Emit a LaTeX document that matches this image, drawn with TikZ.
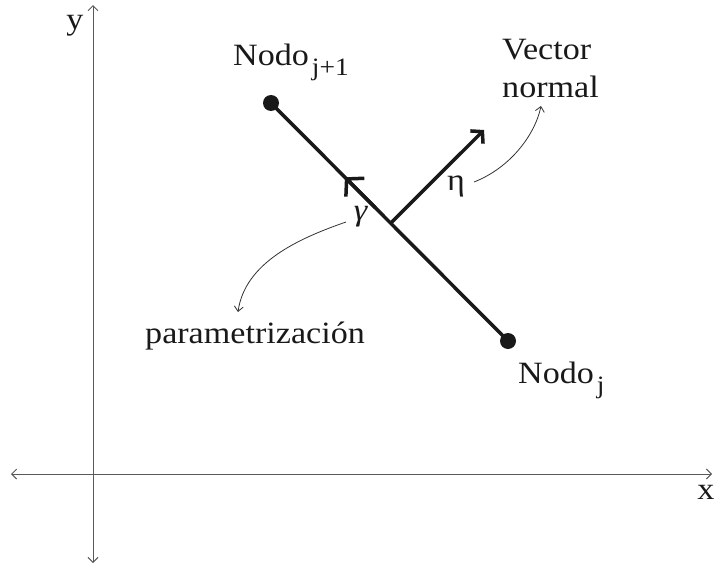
\documentclass[tikz,border=0pt]{standalone}
\usepackage{fontspec}
\setmainfont[FakeStretch=1.1]{Liberation Serif}
\usetikzlibrary{arrows.meta,calc}
\begin{document}
\begin{tikzpicture}[x=1pt,y=-1pt,
  axis/.style={draw=black!65, line width=1pt, {Straight Barb[length=5pt,width=10pt]}-{Straight Barb[length=5pt,width=10pt]}},
  lbl/.style={font=\fontsize{31}{37}\selectfont, inner sep=0pt, text=black!90},
  dot/.style={circle, fill=black!90, inner sep=0pt, minimum size=16pt},
  seg/.style={draw=black!90, line width=3.5pt},
  thinarrow/.style={draw=black!80, line width=0.8pt, -{Straight Barb[length=5pt,width=9pt]}}
]
\useasboundingbox (0,0) rectangle (716,565);
% axes
\coordinate (yt) at (93,5);
\coordinate (yb) at (93,563);
\coordinate (xl) at (11,474);
\coordinate (xr) at (712,474);
\draw[axis] (yb) -- (yt);
\draw[axis] (xl) -- (xr);
\node[lbl, anchor=base] (ylab) at (75,29) {y};
\node[lbl, anchor=base] (xlab) at (706,499) {x};
% nodes
\node[dot] (n1) at (271,103) {};
\node[dot] (n0) at (508,341) {};
\draw[seg] (n1.center) -- (n0.center);
% mid arrow gamma
\coordinate (ga) at ($(n1.center)!0.44!(n0.center)$);
\coordinate (gb) at ($(n1.center)!0.312!(n0.center)$);
\draw[seg, -{Straight Barb[length=12pt,width=26pt]}] (ga) -- (gb);
% normal vector
\coordinate (nb) at ($(n1.center)!0.505!(n0.center)$);
\coordinate (nt) at (484,130);
\draw[seg, -{Straight Barb[length=8pt,width=18pt]}] (nb) -- (nt);
% labels
\node[lbl, anchor=base west] (t1) at (233,65) {Nodo\kern3pt\raisebox{-10pt}{\fontsize{25}{25}\selectfont j+1}};
\node[lbl, anchor=base west] (t0) at (518,383) {Nodo\kern3pt\raisebox{-10pt}{\fontsize{25}{25}\selectfont j}};
\node[lbl, anchor=base west] (v1) at (502,59) {Vector};
\node[lbl, anchor=base west] (v2) at (502,97) {normal};
\node[lbl, anchor=base west] (par) at (145,343) {parametrización};
\node[lbl] (gam) at (361,217) {\textit{γ}};
\node[lbl] (eta) at (456,186) {η};
% curved arrows
\coordinate (c1s) at (474,182);
\coordinate (c1e) at (541,106);
\draw[thinarrow] (c1s) .. controls (510,168) and (535,135) .. (c1e);
\coordinate (c2s) at (346,222);
\coordinate (c2e) at (238,312);
\draw[thinarrow] (c2s) .. controls (300,238) and (245,262) .. (c2e);
\end{tikzpicture}
\end{document}
